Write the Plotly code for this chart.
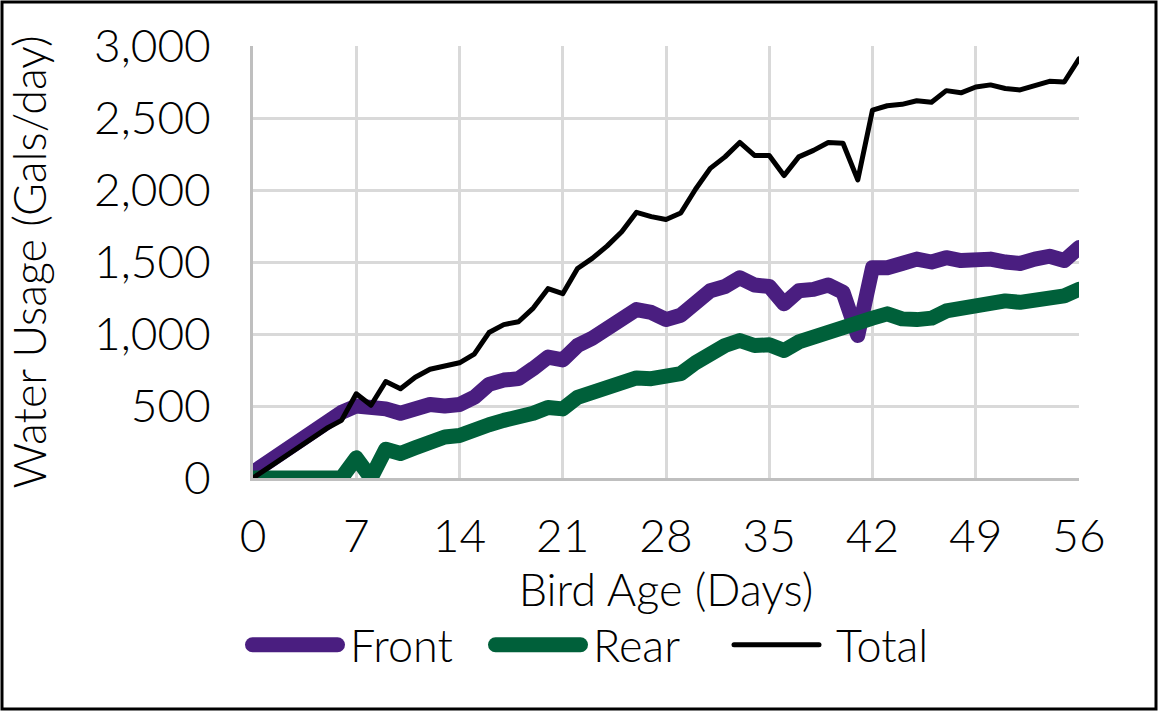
import plotly.graph_objects as go

days = list(range(57))
front = [40, 110, 180, 250, 330, 400, 455, 500, 500, 480, 450, 490, 510, 500, 510, 560,
         650, 680, 690, 760, 840, 820, 920, 970, 1030, 1100, 1170, 1150, 1100, 1130, 1220,
         1300, 1330, 1390, 1340, 1330, 1210, 1300, 1310, 1340, 1290, 990, 1460, 1460, 1490,
         1520, 1500, 1530, 1510, 1520, 1520, 1500, 1490, 1520, 1540, 1510, 1600]
rear = [0, 0, 0, 0, 0, 0, 0, 140, 0, 200, 170, 210, 250, 285, 295, 320, 370, 400, 420,
        450, 490, 480, 560, 600, 635, 670, 695, 690, 705, 725, 800, 870, 920, 955, 920,
        925, 885, 945, 980, 1010, 1060, 1100, 1110, 1140, 1105, 1100, 1110, 1160, 1180,
        1200, 1220, 1230, 1220, 1230, 1250, 1265, 1310]
total = [0, 70, 145, 205, 275, 345, 400, 585, 505, 670, 620, 700, 755, 780, 800, 860,
         1010, 1065, 1085, 1180, 1315, 1280, 1455, 1525, 1610, 1710, 1845, 1815, 1795, 1840,
         2005, 2150, 2230, 2330, 2240, 2240, 2100, 2230, 2275, 2330, 2325, 2070, 2555, 2585,
         2595, 2620, 2610, 2690, 2675, 2715, 2730, 2705, 2695, 2725, 2755, 2750, 2910]
x_ticks = [0, 7, 14, 21, 28, 35, 42, 49, 56]
y_ticks = [0, 500, 1000, 1500, 2000, 2500, 3000]

FONT = "Lato"
TICK_SIZE = 46
TEXT_SIZE = 45
fig = go.Figure()
fig.add_trace(go.Scatter(x=days, y=front, name="Front", mode="lines",
                         line=dict(color="#4A1E80", width=15)))
fig.add_trace(go.Scatter(x=days, y=rear, name="Rear", mode="lines",
                         line=dict(color="#00603A", width=15)))
fig.add_trace(go.Scatter(x=days, y=total, name="Total", mode="lines",
                         line=dict(color="#000000", width=5)))

L, R, T, B = 253, 1079, 46, 478
W, H = 1158, 712
pw, ph = R - L, B - T

def px(xp):
    return (xp - L) / pw

def py(yp):
    return (B - yp) / ph

fig.update_layout(
    width=W, height=H,
    margin=dict(l=L, r=W - R, t=T, b=H - B, autoexpand=False),
    paper_bgcolor="white", plot_bgcolor="white",
    font=dict(family=FONT, size=TEXT_SIZE, color="#000000", weight=300),
    showlegend=True,
    legend=dict(orientation="h", x=px(240), xanchor="left", y=py(645), yanchor="middle",
                font=dict(size=TEXT_SIZE, family=FONT, weight=300), itemwidth=100,
                entrywidth=128, entrywidthmode="pixels",
                bgcolor="rgba(0,0,0,0)"),
    xaxis=dict(range=[0, 56], tickvals=x_ticks, showgrid=True, gridcolor="#D9D9D9",
               gridwidth=3, showline=True, linecolor="#BFBFBF", linewidth=3,
               ticks="outside", ticklen=16, tickcolor="rgba(0,0,0,0)", zeroline=False,
               title=dict(text="Bird Age (Days)", standoff=14,
                          font=dict(size=TEXT_SIZE, family=FONT, weight=300)),
               tickfont=dict(size=TICK_SIZE, family=FONT, weight=300)),
    yaxis=dict(range=[0, 3000], tickvals=y_ticks, tickformat=",d", showgrid=True,
               gridcolor="#D9D9D9", gridwidth=3, showline=True, linecolor="#BFBFBF",
               linewidth=3, ticks="outside", ticklen=30, tickcolor="rgba(0,0,0,0)",
               zeroline=False,
               title=dict(text="Water Usage (Gals/day)", standoff=34,
                          font=dict(size=TEXT_SIZE, family=FONT, weight=300)),
               tickfont=dict(size=TICK_SIZE, family=FONT, weight=300)),
    shapes=[dict(type="rect", xref="paper", yref="paper",
                 x0=px(2), x1=px(1156), y0=py(709), y1=py(2),
                 line=dict(color="black", width=3), fillcolor="rgba(0,0,0,0)",
                 layer="above")],
)

post = """
document.body.style.margin='0px';
document.body.style.overflow='hidden';
document.querySelectorAll('.scatterlayer path.js-line').forEach(function(p){
  p.style.strokeLinejoin='round'; p.style.strokeLinecap='round';
});
var widths=[15,15,5];
var paths=['M12.5,0h85','M12.5,0h85','M8,0h85'];
document.querySelectorAll('.legend .traces').forEach(function(t,i){
  t.querySelectorAll('path.js-line').forEach(function(p){
    p.style.strokeWidth=widths[i]+'px'; p.style.strokeLinecap='round';
    p.setAttribute('d', paths[i]);
  });
});
"""
fig.write_html("out.html", config={"displayModeBar": False}, post_script=post)
